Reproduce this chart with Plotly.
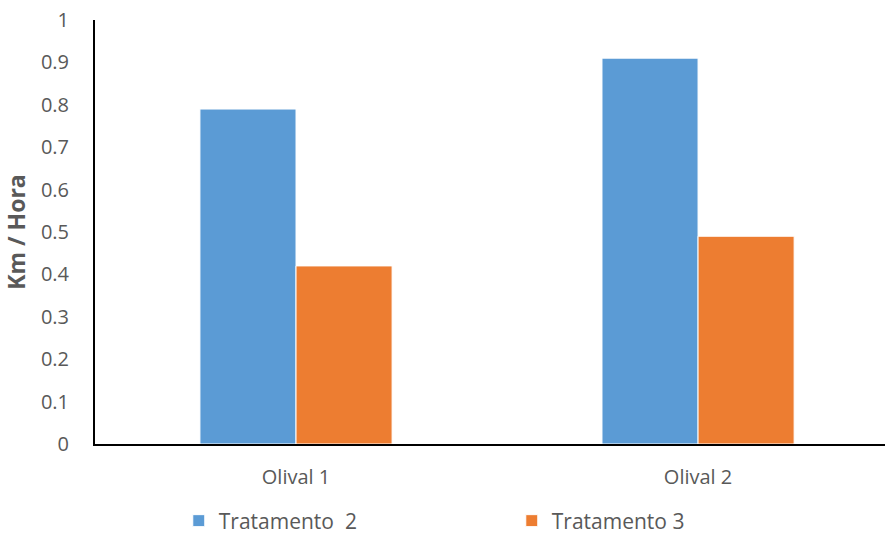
import plotly.graph_objects as go

categories = ["Olival 1", "Olival 2"]
trat2 = [0.79, 0.91]
trat3 = [0.42, 0.49]
series_names = ["Tratamento  2", "Tratamento 3"]
colors = ["#5B9BD5", "#ED7D31"]

fig = go.Figure()
for name, vals, c in zip(series_names, [trat2, trat3], colors):
    fig.add_trace(go.Bar(x=categories, y=vals, name=name, marker_color=c,
                         marker_line_color="white", marker_line_width=1))

font_family = "Open Sans, Liberation Sans, sans-serif"
fig.update_layout(
    width=885, height=536,
    margin=dict(l=95, r=0, t=20, b=92),
    paper_bgcolor="white", plot_bgcolor="white",
    barmode="group", bargap=0.522, bargroupgap=0,
    font=dict(family=font_family, size=20, color="#595959"),
    showlegend=True,
    legend=dict(orientation="h", xref="container", yref="container",
                x=0.202, xanchor="left", y=0.028, yanchor="middle",
                entrywidth=288, entrywidthmode="pixels",
                font=dict(size=21, color="#595959"),
                traceorder="normal", bgcolor="rgba(0,0,0,0)"),
)
fig.update_xaxes(range=[-0.5, 1.465], showline=True, linecolor="#000000", linewidth=2,
                 showgrid=False, ticks="", ticklabelstandoff=14,
                 tickfont=dict(size=20))
fig.update_yaxes(range=[0, 1], dtick=0.1, showline=True, linecolor="#000000", linewidth=2,
                 showgrid=False, ticks="", ticklabelstandoff=20, zeroline=False,
                 tickformat="~g", tickfont=dict(size=20),
                 title=dict(text="<b>Km / Hora</b>", standoff=12, font=dict(size=23)))

fig.write_html("out.html")
